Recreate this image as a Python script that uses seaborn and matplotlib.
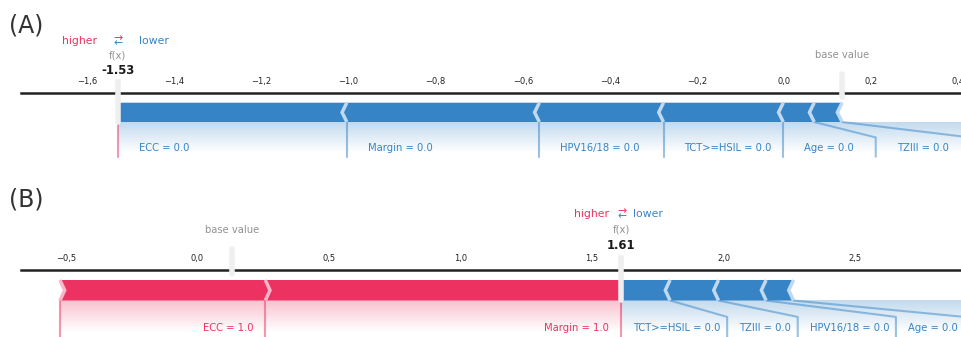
import numpy as np
import matplotlib
matplotlib.use("Agg")
import matplotlib.pyplot as plt
import seaborn as sns
from matplotlib.lines import Line2D
from matplotlib.patches import Polygon
from matplotlib.colors import LinearSegmentedColormap
from matplotlib.ticker import MultipleLocator, FuncFormatter

# SHAP explanation of two cases (same model, shared expected value)
base_value = 0.133

features_a = ["ECC", "Margin", "HPV16/18", "TCT>=HSIL", "Age", "TZIII"]
values_a = [0.0, 0.0, 0.0, 0.0, 0.0, 0.0]
shap_a = [-0.526, -0.442, -0.285, -0.275, -0.071, -0.064]

features_b = ["Margin", "ECC", "TCT>=HSIL", "TZIII", "HPV16/18", "Age"]
values_b = [1.0, 1.0, 0.0, 0.0, 0.0, 0.0]
shap_b = [1.352, 0.780, -0.186, -0.184, -0.181, -0.104]

panel_titles = ["(A)", "(B)"]
tick_steps = [0.2, 0.5]

RED = "#EC3260"
BLUE = "#3684C6"
RED_LIGHT = "#F8B6CA"
BLUE_LIGHT = "#BFD9F1"
BAR_H = 0.1

sns.set_theme(style="white")
plt.rcParams["font.family"] = ["DejaVu Sans"]

W, H = 961, 337
fig = plt.figure(figsize=(W / 100, H / 100), dpi=100)
renderer = fig.canvas.get_renderer()


def make_axes(x_left, px_per_x, y0_px, px_per_y, ylim, left_px=21, right_px=975):
    top_px = y0_px - ylim[1] * px_per_y
    bottom_px = y0_px - ylim[0] * px_per_y
    ax = fig.add_axes([left_px / W, 1 - bottom_px / H,
                       (right_px - left_px) / W, (bottom_px - top_px) / H])
    ax.set_xlim(x_left, x_left + (right_px - left_px) / px_per_x)
    ax.set_ylim(*ylim)
    ax.patch.set_alpha(0)
    return ax


def tick_fmt(x, pos):
    if abs(x) < 1e-9:
        x = 0.0
    return f"{x:.1f}".replace(".", ",").replace("-", "\u2212")


def draw_bars(ax, out_value, bounds, kind, sep_w):
    pre = out_value
    for i, b in enumerate(bounds):
        if kind == "pos":
            left, right = b, pre
            pre = left
            ind = abs(sep_w)
            sep_pos = left
            face, light = RED, RED_LIGHT
        else:
            left, right = pre, b
            pre = right
            ind = -abs(sep_w)
            sep_pos = right
            face, light = BLUE, BLUE_LIGHT
        if i == 0:
            if kind == "pos":
                pts = [[left, 0], [right, 0], [right, BAR_H], [left, BAR_H],
                       [left + ind, BAR_H / 2]]
            else:
                pts = [[right, 0], [left, 0], [left, BAR_H], [right, BAR_H],
                       [right + ind, BAR_H / 2]]
        else:
            pts = [[left, 0], [right, 0], [right + ind * 0.9, BAR_H / 2],
                   [right, BAR_H], [left, BAR_H], [left + ind * 0.9, BAR_H / 2]]
        ax.add_patch(Polygon(pts, closed=True, facecolor=face, lw=0, zorder=3))
        sep = [[sep_pos, 0], [sep_pos + ind, BAR_H / 2], [sep_pos, BAR_H]]
        ax.add_patch(Polygon(sep, closed=False, fill=False, edgecolor=light,
                             lw=2.5, zorder=4))


def shade(ax, x0, x1, color):
    cm = LinearSegmentedColormap.from_list("fade", [color, "white"])
    ys = np.linspace(0, -0.2, 80)
    grad = np.clip(ys / -0.155, 0, 1).reshape(-1, 1) * np.ones((1, 4))
    ax.imshow(grad, cmap=cm, vmin=0, vmax=1, alpha=0.3, origin="upper",
              extent=[min(x0, x1), max(x0, x1), -0.2, 0], aspect="auto",
              interpolation="bilinear", zorder=1)


def draw_labels(ax, out_value, items, bounds, kind, gap_text, gap_end):
    inv = ax.transData.inverted()
    if kind == "pos":
        color, ha, sign = RED, "right", 1
        ax.add_line(Line2D([out_value, out_value], [0, -0.18], lw=1.5,
                           alpha=0.5, color=RED, clip_on=False, zorder=2))
    else:
        color, ha, sign = BLUE, "left", -1
    start_text = out_value
    box_end = out_value
    for (eff, name, fval), val in zip(items, bounds):
        t = ax.text(start_text - sign * gap_text, -0.15, f"{name} = {fval:.1f}",
                    fontsize=7.2, color=color, ha=ha, va="baseline", zorder=5)
        bb = t.get_window_extent(renderer).transformed(inv)
        edge = bb.x0 if kind == "pos" else bb.x1
        if sign * edge > sign * val:
            ax.add_line(Line2D([val, val], [0, -0.18], lw=1.5, alpha=0.5,
                               color=color, clip_on=False, zorder=2))
            start_text = val
            box_end = val
        else:
            box_end = edge - sign * gap_end
            ax.add_line(Line2D([val, box_end, box_end], [0, -0.08, -0.18],
                               lw=1.5, alpha=0.5, color=color, clip_on=False,
                               zorder=2))
            start_text = box_end
    shade(ax, out_value, box_end, color)


def force_plot(ax, names, fvals, effects, step, gap_text, gap_end):
    out_value = base_value + sum(effects)
    triples = list(zip(effects, names, fvals))
    pos = sorted([t for t in triples if t[0] > 0], key=lambda t: -t[0])
    neg = sorted([t for t in triples if t[0] < 0], key=lambda t: t[0])
    pos_bounds = out_value - np.cumsum([t[0] for t in pos]) if pos else []
    neg_bounds = out_value + np.cumsum([-t[0] for t in neg]) if neg else []

    xlim = ax.get_xlim()
    ylim = ax.get_ylim()
    sep_w = (xlim[1] - xlim[0]) / 200

    draw_bars(ax, out_value, neg_bounds, "neg", sep_w)
    draw_bars(ax, out_value, pos_bounds, "pos", sep_w)
    draw_labels(ax, out_value, neg, neg_bounds, "neg", gap_text, gap_end)
    draw_labels(ax, out_value, pos, pos_bounds, "pos", gap_text, gap_end)

    # higher / lower legend
    ax.text(out_value - gap_text, 0.405, "higher", fontsize=7.8, color=RED, ha="right")
    ax.text(out_value + gap_text, 0.405, "lower", fontsize=7.8, color=BLUE, ha="left")
    ax.text(out_value, 0.4, r"$\leftarrow$", fontsize=7.8, color=BLUE, ha="center")
    ax.text(out_value, 0.425, r"$\rightarrow$", fontsize=7.8, color=RED, ha="center")

    # base value marker
    ax.add_line(Line2D([base_value, base_value], [0.13, 0.25], lw=4,
                       color="#EFEFEF", clip_on=False, zorder=6))
    ax.text(base_value, 0.33, "base value", fontsize=7.2, alpha=0.5, ha="center",
            bbox=dict(facecolor="white", edgecolor="white", pad=1))

    # model output marker
    ax.add_line(Line2D([out_value, out_value], [0, 0.24], lw=4,
                       color="#EFEFEF", clip_on=False, zorder=6))
    ax.text(out_value, 0.25, f"{out_value:.2f}", fontsize=8.4, fontweight="bold",
            color="#1a1a1a", ha="center",
            bbox=dict(facecolor="white", edgecolor="white", pad=1), zorder=7)
    ax.text(out_value, 0.33, "f(x)", fontsize=7.2, alpha=0.5, ha="center",
            bbox=dict(facecolor="white", edgecolor="white", pad=1))

    ax.set_xlim(xlim)
    ax.set_ylim(ylim)
    ax.xaxis.set_major_locator(MultipleLocator(step))
    ax.xaxis.set_major_formatter(FuncFormatter(tick_fmt))
    ax.tick_params(top=True, bottom=False, left=False, right=False,
                   labelleft=False, labeltop=True, labelbottom=False,
                   direction="out", length=2.5, width=1.0, pad=2.5,
                   labelsize=6, colors="#222222")
    ax.set_yticks([])
    sns.despine(ax=ax, top=False, left=True, bottom=True, right=True)
    ax.spines["top"].set_linewidth(1.8)
    ax.spines["top"].set_color("#222222")
    ax.grid(False)


ax_a = make_axes(-1.752, 435.6, 122.0, 193.0, (-0.22, 0.15))
force_plot(ax_a, features_a, values_a, shap_a, tick_steps[0],
           gap_text=0.048, gap_end=0.05)

ax_b = make_axes(-0.670, 263.2, 300.5, 205.0, (-0.19, 0.15))
force_plot(ax_b, features_b, values_b, shap_b, tick_steps[1],
           gap_text=0.046, gap_end=0.025)

fig.text(9 / W, 1 - 32 / H, panel_titles[0], fontsize=17, color="#333333",
         ha="left", va="baseline")
fig.text(9 / W, 1 - 206 / H, panel_titles[1], fontsize=17, color="#333333",
         ha="left", va="baseline")

fig.savefig("out.png", dpi=100)
